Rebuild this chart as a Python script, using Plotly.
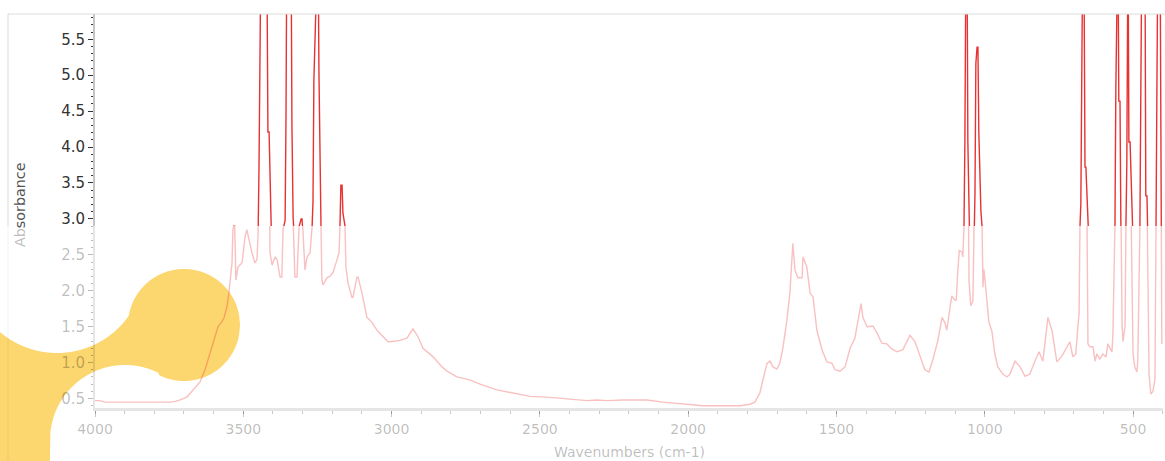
import numpy as np
import plotly.graph_objects as go

# ---------------- data ----------------
wavenumbers = [
    4000, 3985, 3965, 3945, 3925, 3900, 3880, 3860, 3840, 3810, 3780, 3750, 3730, 3713,
    3690, 3669, 3646, 3629, 3612, 3595, 3585, 3572, 3565, 3555, 3548, 3538, 3535, 3532,
    3529, 3525, 3518, 3504, 3494, 3488, 3477, 3471, 3461, 3454, 3450, 3447, 3444, 3440,
    3421, 3417, 3413, 3410, 3403, 3393, 3386, 3376, 3370, 3366, 3359, 3356, 3353, 3339,
    3336, 3332, 3326, 3319, 3312, 3305, 3302, 3299, 3292, 3285, 3275, 3268, 3265, 3262,
    3258, 3248, 3245, 3241, 3238, 3235, 3231, 3218, 3208, 3198, 3184, 3177, 3174, 3171,
    3167, 3164, 3157, 3154, 3147, 3134, 3130, 3117, 3113, 3100, 3083, 3066, 3049, 3029,
    3012, 3005, 2972, 2948, 2928, 2911, 2894, 2860, 2830, 2813, 2780, 2736, 2702, 2645,
    2591, 2533, 2476, 2409, 2341, 2307, 2274, 2220, 2139, 2085, 2004, 1950, 1825, 1792,
    1775, 1758, 1748, 1734, 1724, 1714, 1701, 1691, 1680, 1667, 1657, 1650, 1647, 1640,
    1630, 1616, 1613, 1600, 1589, 1579, 1566, 1549, 1532, 1515, 1505, 1488, 1471, 1454,
    1438, 1424, 1417, 1411, 1397, 1377, 1363, 1347, 1330, 1313, 1296, 1276, 1252, 1235,
    1219, 1202, 1188, 1175, 1158, 1144, 1134, 1128, 1117, 1111, 1101, 1096, 1092, 1086,
    1077, 1074, 1070, 1067, 1063, 1060, 1057, 1053, 1047, 1040, 1036, 1033, 1030, 1026,
    1023, 1020, 1013, 1009, 1006, 1003, 999, 993, 986, 976, 966, 956, 939, 925,
    915, 898, 881, 864, 848, 831, 817, 804, 790, 787, 773, 757, 740, 723,
    713, 703, 693, 686, 682, 679, 676, 672, 669, 666, 662, 659, 655, 652,
    645, 635, 628, 622, 612, 602, 591, 585, 571, 568, 561, 558, 554, 551,
    548, 544, 541, 537, 534, 527, 524, 521, 517, 514, 510, 504, 500, 494,
    487, 484, 477, 473, 470, 460, 457, 453, 450, 446, 440, 433, 426, 423,
    419, 416, 409, 406, 403,
]
absorbance = [
    0.47, 0.47, 0.45, 0.45, 0.44, 0.45, 0.44, 0.45, 0.44, 0.45, 0.44, 0.45, 0.46, 0.48,
    0.52, 0.62, 0.73, 0.90, 1.13, 1.36, 1.50, 1.57, 1.62, 1.78, 1.99, 2.39, 2.85, 2.90,
    2.90, 2.15, 2.33, 2.39, 2.75, 2.85, 2.61, 2.53, 2.39, 2.43, 2.80, 3.72, 5.38, 7.00,
    7.00, 4.21, 4.21, 2.53, 2.36, 2.47, 2.43, 2.19, 2.19, 2.85, 2.98, 4.42, 7.00, 7.00,
    4.31, 3.01, 2.19, 2.19, 2.89, 3.00, 3.00, 2.85, 2.29, 2.47, 2.53, 2.89, 3.24, 4.93,
    7.00, 7.00, 5.07, 3.12, 2.89, 2.15, 2.08, 2.18, 2.20, 2.25, 2.43, 2.53, 2.90, 3.47,
    3.47, 3.08, 2.90, 2.33, 2.11, 1.91, 1.91, 2.19, 2.19, 1.97, 1.63, 1.56, 1.45, 1.36,
    1.29, 1.29, 1.31, 1.34, 1.47, 1.36, 1.20, 1.08, 0.94, 0.88, 0.80, 0.76, 0.70, 0.62,
    0.58, 0.53, 0.52, 0.49, 0.47, 0.48, 0.47, 0.48, 0.48, 0.45, 0.42, 0.40, 0.40, 0.42,
    0.45, 0.58, 0.76, 0.99, 1.02, 0.94, 0.91, 0.99, 1.22, 1.59, 1.97, 2.43, 2.66, 2.29,
    2.18, 2.18, 2.47, 2.33, 1.97, 1.91, 1.45, 1.18, 1.01, 0.99, 0.90, 0.88, 0.94, 1.20,
    1.34, 1.66, 1.82, 1.63, 1.50, 1.51, 1.41, 1.27, 1.26, 1.19, 1.15, 1.18, 1.38, 1.29,
    1.11, 0.90, 0.87, 1.04, 1.31, 1.63, 1.55, 1.45, 1.77, 1.93, 1.87, 1.87, 2.20, 2.56,
    2.54, 2.47, 2.89, 4.06, 7.00, 7.00, 4.08, 2.14, 1.79, 1.86, 2.89, 3.35, 5.16, 5.39,
    5.39, 4.21, 3.11, 2.89, 2.05, 2.30, 2.14, 1.86, 1.56, 1.44, 1.12, 0.94, 0.84, 0.80,
    0.84, 1.02, 0.94, 0.81, 0.84, 1.02, 1.15, 1.02, 1.54, 1.63, 1.44, 1.01, 1.09, 1.22,
    1.29, 1.08, 1.12, 1.50, 1.68, 2.89, 3.21, 5.48, 7.00, 7.00, 3.72, 3.72, 2.89, 1.26,
    1.22, 1.22, 1.02, 1.12, 1.05, 1.12, 1.08, 1.26, 1.15, 1.40, 2.89, 4.82, 7.00, 7.00,
    4.64, 4.64, 2.89, 1.54, 1.29, 1.50, 2.89, 3.76, 7.00, 4.07, 4.07, 2.33, 1.12, 0.94,
    0.87, 1.02, 2.83, 5.39, 7.00, 7.00, 3.32, 3.32, 1.87, 0.84, 0.56, 0.60, 0.77, 2.89,
    4.74, 7.00, 7.00, 4.08, 1.26,
]

x_tick_vals = [4000, 3500, 3000, 2500, 2000, 1500, 1000, 500]
y_tick_vals_lower = [0.5, 1.0, 1.5, 2.0, 2.5]
y_tick_vals_upper = [3.0, 3.5, 4.0, 4.5, 5.0, 5.5]

# ---------------- layout constants ----------------
W, H = 1165, 461
ML, MR, MT, MB = 95, 2, 14, 53
PW, PH = W - ML - MR, H - MT - MB
Y_MIN, Y_MAX = 0.368, 5.852
SPLIT = 2.9
X_RANGE = [4000, 399]
SPLIT_FRAC = (SPLIT - Y_MIN) / (Y_MAX - Y_MIN)

FONT = "DejaVu Sans"
FADE = "rgba(0,0,0,0.27)"
RED = "#e83232"
PINK = "rgba(232,48,48,0.30)"


def px_to_paper(px, py):
    return (px - ML) / PW, (H - MB - py) / PH


def blob_path():
    top_pts, bot_pts = [], []
    for x in np.linspace(-8, 240, 311):
        s = 56 ** 2 - (x - 184) ** 2
        s_top = 325 - np.sqrt(s) if s >= 0 else np.inf
        w = 88 ** 2 - (x - 57) ** 2
        w_bot = 265 + np.sqrt(w) if w >= 0 else 265
        top = min(w_bot, s_top) if x <= 136 else s_top
        if x < 50:
            bot = 478
        elif x <= 159:
            bot = 440 - np.sqrt(max(75 ** 2 - (x - 125) ** 2, 0))
        else:
            bot = 325 + np.sqrt(max(s, 0))
        top_pts.append(px_to_paper(x, top))
        bot_pts.append(px_to_paper(x, bot))
    pts = top_pts + bot_pts[::-1]
    d = "M " + " L ".join(f"{a:.5f},{b:.5f}" for a, b in pts) + " Z"
    return d


def minor_vals(lo, hi):
    out = []
    v = lo
    while v <= hi + 1e-9:
        if abs(v * 2 - round(v * 2)) > 1e-6:
            out.append(round(v, 2))
        v += 0.1
    return out


fig = go.Figure()
fig.add_trace(go.Scatter(
    x=wavenumbers, y=absorbance, mode="lines",
    line=dict(color=PINK, width=1.4), xaxis="x", yaxis="y",
    hoverinfo="skip", showlegend=False,
))
fig.add_trace(go.Scatter(
    x=wavenumbers, y=absorbance, mode="lines",
    line=dict(color=RED, width=1.4), xaxis="x", yaxis="y2",
    hoverinfo="skip", showlegend=False,
))

fl, _ = px_to_paper(8, 0)
fr, _ = px_to_paper(W, 0)
_, fb = px_to_paper(0, H)

shapes = [
    dict(type="path", xref="paper", yref="paper", path=blob_path(),
         fillcolor="#FCD66E", line=dict(width=0), layer="below"),
    dict(type="line", xref="paper", yref="paper", x0=fl, x1=fr, y0=1, y1=1,
         line=dict(color="#dcdcdc", width=1), layer="above"),
    dict(type="line", xref="paper", yref="paper", x0=fl, x1=fl, y0=1, y1=SPLIT_FRAC,
         line=dict(color="rgba(0,0,0,0.14)", width=1), layer="above"),
    dict(type="line", xref="paper", yref="paper", x0=fl, x1=fl, y0=SPLIT_FRAC, y1=fb,
         line=dict(color="rgba(0,0,0,0.06)", width=1), layer="above"),
]

xt_x, xt_y = px_to_paper(0, 452)
yt_x, yt_y = px_to_paper(20, 205)

annotations = [
    dict(text="Wavenumbers (cm-1)", xref="paper", yref="paper", x=0.5, y=xt_y,
         showarrow=False, xanchor="center", yanchor="middle",
         font=dict(family=FONT, size=14, color=FADE)),
    dict(text="<span style='color:rgba(0,0,0,0.27)'>Ab</span>sorbance",
         xref="paper", yref="paper", x=yt_x, y=yt_y, textangle=-90,
         showarrow=False, xanchor="center", yanchor="middle",
         font=dict(family=FONT, size=14.3, color="#555555")),
]

fig.update_layout(
    width=W, height=H,
    margin=dict(l=ML, r=MR, t=MT, b=MB, pad=0),
    paper_bgcolor="white", plot_bgcolor="white",
    showlegend=False,
    font=dict(family=FONT, size=14, color="#333333"),
    shapes=shapes,
    annotations=annotations,
    xaxis=dict(
        range=X_RANGE, anchor="y", showgrid=False, zeroline=False,
        showline=True, linecolor="rgba(0,0,0,0.10)", linewidth=3,
        tickmode="array", tickvals=x_tick_vals,
        ticks="outside", ticklen=6, tickwidth=1, tickcolor="rgba(0,0,0,0.22)",
        minor=dict(dtick=100, tick0=0, ticks="outside", ticklen=3,
                   tickcolor="rgba(0,0,0,0.22)", tickwidth=1),
        tickfont=dict(family=FONT, size=14, color=FADE),
    ),
    yaxis=dict(
        range=[Y_MIN, Y_MAX], domain=[0, 1], anchor="x",
        showgrid=False, zeroline=False,
        showline=True, linecolor="rgba(0,0,0,0.10)", linewidth=2,
        tickmode="array", tickvals=y_tick_vals_lower,
        ticktext=[f"{v:.1f}" for v in y_tick_vals_lower],
        ticks="outside", ticklen=5, tickwidth=1, tickcolor=FADE,
        minor=dict(tickmode="array", tickvals=minor_vals(0.4, 2.9), ticks="outside",
                   ticklen=2, tickcolor=FADE, tickwidth=1),
        tickfont=dict(family=FONT, size=15, color=FADE),
    ),
    yaxis2=dict(
        range=[SPLIT, Y_MAX], domain=[SPLIT_FRAC, 1], anchor="x",
        showgrid=False, zeroline=False,
        showline=True, linecolor="#c4c4c4", linewidth=2,
        tickmode="array", tickvals=y_tick_vals_upper,
        ticktext=[f"{v:.1f}" for v in y_tick_vals_upper],
        ticks="outside", ticklen=5, tickwidth=1, tickcolor="#333333",
        minor=dict(tickmode="array", tickvals=minor_vals(3.0, 5.8), ticks="outside",
                   ticklen=2, tickcolor="#333333", tickwidth=1),
        tickfont=dict(family=FONT, size=15, color="#333333"),
    ),
)

fig.write_html(
    "out.html",
    config={"displayModeBar": False},
    post_script="document.body.style.margin='0px';document.body.style.padding='0px';"
                "document.body.style.overflow='hidden';",
)
